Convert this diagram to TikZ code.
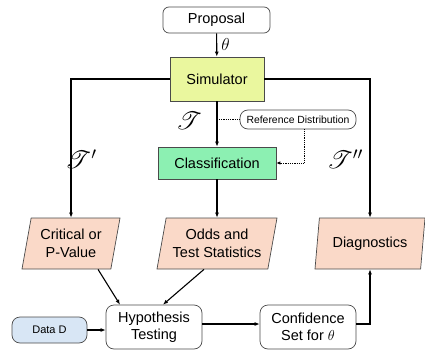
\documentclass[tikz,border=0pt]{standalone}
\usepackage{fontspec}
\setmainfont{Liberation Sans}
\usepackage{mathrsfs}
\usetikzlibrary{arrows.meta,shapes.geometric,calc}
\definecolor{simcol}{HTML}{EAF79E}
\definecolor{clscol}{HTML}{8CF0B2}
\definecolor{parcol}{HTML}{FAD9C8}
\definecolor{datcol}{HTML}{D8E6F5}
\definecolor{edgecol}{HTML}{4A4A4A}
\begin{document}
\begin{tikzpicture}[x=1pt,y=-1pt,
  every node/.style={font=\fontsize{14.5}{17.5}\selectfont, inner sep=0pt, align=center},
  roundbox/.style={draw=edgecol, line width=0.7pt, rounded corners=6pt, fill=white},
  rectbox/.style={draw=edgecol, line width=0.7pt},
  parbox/.style={draw=edgecol, line width=0.7pt, fill=parcol, shape=trapezium,
    trapezium left angle=72, trapezium right angle=108, trapezium stretches body,
    minimum height=51pt},
  conn/.style={line width=1.1pt, -{Latex[length=5pt,width=4pt]}},
  dotconn/.style={line width=0.8pt, densely dotted},
  lbl/.style={font=\fontsize{26}{26}\selectfont}
]
\useasboundingbox (0,0) rectangle (425,350);

\node[roundbox, minimum width=107pt, minimum height=26pt] (prop) at (216.5,20) {Proposal};
\node[rectbox, fill=simcol, minimum width=94pt, minimum height=44pt] (sim) at (217,79) {Simulator};
\node[rectbox, fill=clscol, minimum width=118pt, minimum height=32pt] (cls) at (217,163) {Classification};
\node[roundbox, rounded corners=8pt, minimum width=116pt, minimum height=19pt,
      font=\fontsize{10.4}{12}\selectfont] (ref) at (298,119.5) {Reference Distribution};

\node[parbox, minimum width=98pt] (crit) at (71,243.5) {Critical or\\P-Value};
\node[parbox, minimum width=120pt] (odds) at (217,243.5) {Odds and\\Test Statistics};
\node[parbox, minimum width=110pt] (diag) at (370,243.5) {Diagnostics};

\node[roundbox, fill=datcol, rounded corners=8pt, minimum width=75pt, minimum height=26pt,
      font=\fontsize{11}{13}\selectfont] (data) at (49.5,330) {Data $\mathrm{D}$};
\node[roundbox, rounded corners=8pt, minimum width=96pt, minimum height=44pt] (hyp) at (154,327) {Hypothesis\\Testing};
\node[roundbox, rounded corners=8pt, minimum width=96pt, minimum height=44pt] (conf) at (308,327) {Confidence\\Set for $\theta$};

% labels
\node[lbl] (tlab) at (189,121) {$\mathscr{T}$};
\node[lbl] (tplab) at (81,159) {$\mathscr{T}'$};
\node[lbl] (tpplab) at (345,159) {$\mathscr{T}''$};

% connectors
\draw[conn] (prop) -- node[right=4pt, font=\fontsize{16}{16}\selectfont] {$\theta$} (sim);
\draw[conn] (sim) -- (cls);
\draw[conn] (sim.west) -| (crit.south |- crit.north);
\draw[conn] (sim.east) -| (diag.center |- diag.north);
\draw[conn] (cls) -- (cls |- odds.north);

\draw[dotconn] (ref.west) -- (ref.west -| sim.south);
\draw[dotconn, -{Latex[length=4pt,width=3.5pt]}] ([xshift=6pt]ref.south) |- (cls.east);

\draw[conn] ([xshift=27pt]crit.south) -- ([xshift=-34pt]hyp.north);
\draw[conn] ([xshift=-13pt]odds.south) -- ([xshift=9pt]hyp.north);

\draw[conn] (data.east) -- (data.east -| hyp.west);
\coordinate (hc) at ([yshift=3pt]hyp.east);
\draw[conn] (hc) -- (hc -| conf.west);
\draw[conn] ([yshift=3pt]conf.east) -| (diag.center |- diag.south);
\end{tikzpicture}
\end{document}
